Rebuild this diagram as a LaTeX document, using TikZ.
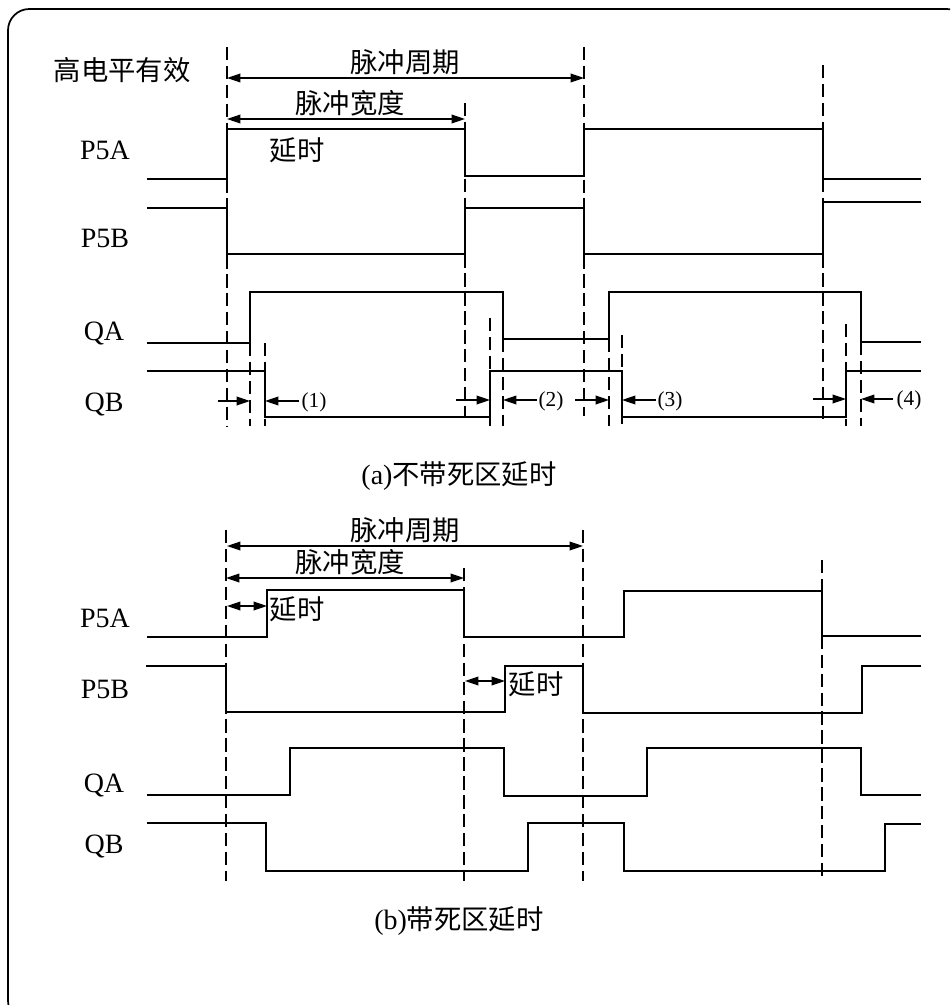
\documentclass[tikz,border=0pt]{standalone}
\usepackage{fontspec}
\setmainfont{Liberation Serif}
\newfontfamily\cjk{Noto Sans CJK SC}
\usetikzlibrary{arrows.meta}
\tikzset{
  wave/.style={line width=1.2pt,line join=miter},
  guide/.style={line width=1.05pt,dash pattern=on 10pt off 4.2pt},
  span/.style={line width=1.05pt,{Triangle[length=10pt,width=6.5pt]}-{Triangle[length=10pt,width=6.5pt]}},
  tip/.style={line width=1.05pt,-{Triangle[length=10pt,width=6.5pt]}},
  frame/.style={line width=1.3pt,rounded corners=16pt},
  zh/.style={font=\cjk\fontsize{20.5}{24}\selectfont,inner sep=0pt},
  lat/.style={font=\fontsize{21}{24}\selectfont,inner sep=0pt},
  num/.style={font=\fontsize{16}{18}\selectfont,inner sep=0pt},
}
\begin{document}
\begin{tikzpicture}[x=0.75pt,y=-0.75pt]
\useasboundingbox (0,0) rectangle (950,1005);
\clip (0,0) rectangle (950,1005);
\fill[white] (0,0) rectangle (950,1005);
\draw[frame] (8,9) rectangle (968,1022);

% (a) guides
\draw[guide] (227,47) -- (227,426);
\draw[guide] (465,103) -- (465,418);
\draw[guide] (584,47) -- (584,416);
\draw[guide] (823,65) -- (823,422);
\draw[guide] (250,343) -- (250,426);
\draw[guide] (265,343) -- (265,426);
\draw[guide] (490,318) -- (490,426);
\draw[guide] (503,339) -- (503,426);
\draw[guide] (609,339) -- (609,426);
\draw[guide] (622,335) -- (622,426);
\draw[guide] (846,324) -- (846,426);
\draw[guide] (861,342) -- (861,426);

% (a) waves
\draw[wave] (147,179) -- (227,179) -- (227,129) -- (465,129) -- (465,176) -- (584,176) -- (584,129) -- (823,129) -- (823,179) -- (921,179);
\draw[wave] (147,208) -- (227,208) -- (227,254) -- (465,254) -- (465,208) -- (584,208) -- (584,254) -- (823,254) -- (823,202) -- (921,202);
\draw[wave] (147,343) -- (250,343) -- (250,292) -- (503,292) -- (503,339) -- (609,339) -- (609,292) -- (861,292) -- (861,342) -- (921,342);
\draw[wave] (147,371) -- (265,371) -- (265,417) -- (490,417) -- (490,371) -- (622,371) -- (622,417) -- (846,417) -- (846,371) -- (921,371);

% (a) spans
\draw[span] (227,78) -- (584,78);
\draw[span] (227,119) -- (465,119);
\draw[tip] (218,401) -- (250,401);
\draw[tip] (299,401) -- (265,401);
\draw[tip] (456,400) -- (490,400);
\draw[tip] (537,400) -- (503,400);
\draw[tip] (575,400) -- (609,400);
\draw[tip] (656,400) -- (622,400);
\draw[tip] (813,399) -- (846,399);
\draw[tip] (893,399) -- (861,399);
\node[num] (n1) at (314,402) {(1)};
\node[num] (n2) at (551,401) {(2)};
\node[num] (n3) at (670,401) {(3)};
\node[num] (n4) at (909,400) {(4)};

% (a) labels
\node[zh] (active) at (122,70) {高电平有效};
\node[zh] (perA) at (405,62) {脉冲周期};
\node[zh] (widA) at (350,103) {脉冲宽度};
\node[zh] (delA) at (297,150) {延时};
\node[lat] (p5aA) at (105,150) {P5A};
\node[lat] (p5bA) at (105,238) {P5B};
\node[lat] (qaA) at (104,333) {QA};
\node[lat] (qbA) at (104,404) {QB};
\node[lat] (capA) at (459,476) {(a){\cjk\fontsize{20.5}{24}\selectfont 不带死区延时}};

% (b) guides
\draw[guide] (226,530) -- (226,881);
\draw[guide] (464,568) -- (464,881);
\draw[guide] (583,530) -- (583,881);
\draw[guide] (822,560) -- (822,881);

% (b) waves
\draw[wave] (147,637) -- (267,637) -- (267,590) -- (464,590) -- (464,637) -- (624,637) -- (624,591) -- (822,591) -- (822,636) -- (921,636);
\draw[wave] (146,666) -- (226,666) -- (226,712) -- (505,712) -- (505,666) -- (583,666) -- (583,713) -- (862,713) -- (862,666) -- (921,666);
\draw[wave] (147,795) -- (290,795) -- (290,748) -- (504,748) -- (504,796) -- (647,796) -- (647,748) -- (861,748) -- (861,795) -- (921,795);
\draw[wave] (147,823) -- (266,823) -- (266,871) -- (528,871) -- (528,823) -- (624,823) -- (624,871) -- (885,871) -- (885,824) -- (921,824);

% (b) spans
\draw[span] (227,546) -- (583,546);
\draw[span] (226,578) -- (464,578);
\draw[span] (227,606) -- (267,606);
\draw[span] (465,681) -- (505,681);

% (b) labels
\node[zh] (perB) at (405,530) {脉冲周期};
\node[zh] (widB) at (350,562) {脉冲宽度};
\node[zh] (delB) at (297,609) {延时};
\node[zh] (delC) at (536,684) {延时};
\node[lat] (p5aB) at (105,618) {P5A};
\node[lat] (p5bB) at (105,689) {P5B};
\node[lat] (qaB) at (104,785) {QA};
\node[lat] (qbB) at (104,846) {QB};
\node[lat] (capB) at (459,921) {(b){\cjk\fontsize{20.5}{24}\selectfont 带死区延时}};
\end{tikzpicture}
\end{document}
